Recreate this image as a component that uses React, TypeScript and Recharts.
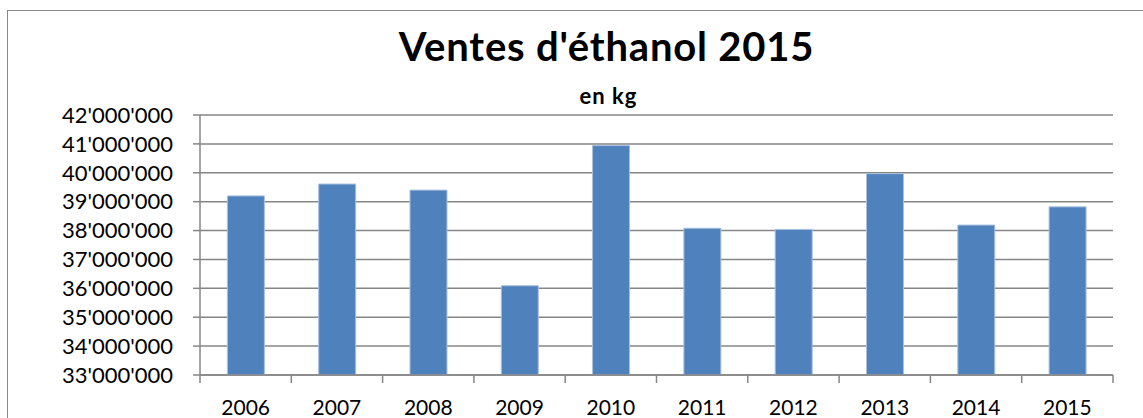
import React from 'react';
import { Bar, BarChart, CartesianGrid, XAxis, YAxis } from 'recharts';

const years = ['2006', '2007', '2008', '2009', '2010', '2011', '2012', '2013', '2014', '2015'];
const sales = [39200000, 39610000, 39400000, 36090000, 40940000, 38080000, 38040000, 39970000, 38190000, 38820000];
const yTicks = [33000000, 34000000, 35000000, 36000000, 37000000, 38000000, 39000000, 40000000, 41000000, 42000000];

const data = years.map((year, i) => ({ year, sales: sales[i] }));

const FONT = 'Lato, "Open Sans", sans-serif';
const AXIS = '#868686';

const fmt = (v: number) => String(v).replace(/\B(?=(\d{3})+(?!\d))/g, "'");

// year label + tick marks between categories (Excel style)
const YearTick = (props: any) => {
  const { x, y, payload, index, visibleTicksCount, width } = props;
  const count = visibleTicksCount || years.length;
  const half = (width || 913) / count / 2;
  const last = index === count - 1;
  return (
    <g>
      <line x1={x - half} y1={y} x2={x - half} y2={y + 8} stroke={AXIS} strokeWidth={1.5} />
      {last && <line x1={x + half} y1={y} x2={x + half} y2={y + 8} stroke={AXIS} strokeWidth={1.5} />}
      <text x={x} y={y + 40} textAnchor='middle' fill='#000' fontSize={21} fontFamily={FONT}>
        {payload.value}
      </text>
    </g>
  );
};

const App = () => {
  return (
    <div style={{ position: 'absolute', left: 0, top: 0, width: 1143, height: 418, overflow: 'hidden', background: '#fff' }}>
      <div style={{ position: 'absolute', left: 7, top: 10, width: 1160, height: 420, border: '1.5px solid #898989', boxSizing: 'border-box' }} />
      <div style={{ position: 'absolute', left: 0, width: 1213, top: 22, textAlign: 'center', fontFamily: FONT, fontWeight: 700, fontSize: 40, letterSpacing: 0.8, lineHeight: '48px', color: '#000' }}>
        Ventes d'éthanol 2015
      </div>
      <div style={{ position: 'absolute', left: 0, width: 1217, top: 83, textAlign: 'center', fontFamily: FONT, fontWeight: 700, fontSize: 22, letterSpacing: 1, lineHeight: '26px', color: '#000' }}>
        en kg
      </div>
      <div style={{ position: 'absolute', left: 0, top: 0 }}>
        <BarChart width={1143} height={418} data={data} margin={{ top: 115, right: 30, bottom: 0, left: 0 }} barCategoryGap='30%'>
          <CartesianGrid vertical={false} stroke={AXIS} strokeWidth={1.5} />
          <XAxis
            dataKey='year'
            height={43}
            axisLine={{ stroke: AXIS, strokeWidth: 1.5 }}
            tickLine={false}
            tickSize={0}
            tickMargin={0}
            tick={<YearTick />}
            interval={0}
          />
          <YAxis
            width={200}
            domain={[33000000, 42000000]}
            ticks={yTicks}
            interval={0}
            tickFormatter={fmt}
            axisLine={{ stroke: AXIS, strokeWidth: 1.5 }}
            tickLine={{ stroke: AXIS, strokeWidth: 1.5 }}
            tickSize={7}
            tickMargin={20}
            tick={{ fill: '#000', fontSize: 22, fontFamily: FONT }}
            allowDataOverflow
          />
          <Bar dataKey='sales' fill='#4F81BD' stroke='#a9c1df' strokeWidth={1} isAnimationActive={false} />
        </BarChart>
      </div>
    </div>
  );
};

export default App;
